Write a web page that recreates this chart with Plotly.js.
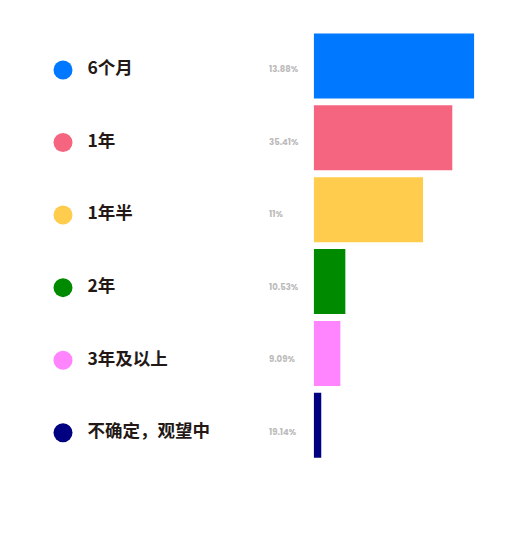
<!DOCTYPE html>
<html>
<head>
<meta charset="utf-8">
<script src="https://cdn.plot.ly/plotly-3.0.1.min.js"></script>
<style>html,body{margin:0;padding:0;background:#fff;}#chart{width:525px;height:540px;}</style>
</head>
<body>
<div id="chart"></div>
<script>
// Data
const categories = ['6个月', '1年', '1年半', '2年', '3年及以上', '不确定，观望中'];
const percentLabels = ['13.88%', '35.41%', '11%', '10.53%', '9.09%', '19.14%'];
// Bar lengths as drawn (relative units, longest = 100)
const barLengths = [100, 86.3, 68.1, 19.7, 16.6, 4.7];
const colors = ['#0078FF', '#F6657F', '#FFCC4D', '#008A00', '#FF85FF', '#000080'];

// Layout constants (pixel columns on the legend axis, 0..525)
const DOT_X = 63;
const LABEL_X = 87.5;
const PCT_X = 269;

const traces = [
  {
    type: 'bar',
    orientation: 'h',
    y: categories,
    x: barLengths,
    marker: {color: colors},
    hoverinfo: 'skip',
    xaxis: 'x', yaxis: 'y',
    showlegend: false
  },
  {
    type: 'scatter',
    mode: 'markers',
    y: categories,
    x: categories.map(() => DOT_X),
    marker: {color: colors, size: 19, line: {width: 0}},
    xaxis: 'x2', yaxis: 'y2',
    hoverinfo: 'skip',
    showlegend: false
  },
  {
    type: 'scatter',
    mode: 'text',
    y: categories,
    x: categories.map(() => LABEL_X),
    text: categories.map(c => '<b>' + c + '</b>'),
    textposition: 'middle right',
    textfont: {family: 'Noto Sans CJK SC, Noto Sans, sans-serif', size: 17.5, color: '#231815'},
    xaxis: 'x2', yaxis: 'y2',
    hoverinfo: 'skip',
    showlegend: false
  },
  {
    type: 'scatter',
    mode: 'text',
    y: categories,
    x: categories.map(() => PCT_X),
    text: percentLabels.map(p => '<b>' + p + '</b>'),
    textposition: 'middle right',
    textfont: {family: 'Poppins, Noto Sans, sans-serif', size: 8.5, color: '#BBBBBB'},
    xaxis: 'x2', yaxis: 'y2',
    hoverinfo: 'skip',
    showlegend: false
  }
];

const layout = {
  width: 525, height: 540,
  margin: {l: 0, r: 0, t: 30, b: 70},
  paper_bgcolor: '#fff', plot_bgcolor: 'rgba(0,0,0,0)',
  bargap: 0.096,
  xaxis: {domain: [313.7/525, 474.3/525], range: [0, 100], visible: false, fixedrange: true, anchor: 'y'},
  yaxis: {domain: [(470-461.2)/440, 1], range: [5.5, -0.5], type: 'category', visible: false, fixedrange: true, anchor: 'x'},
  xaxis2: {domain: [0, 1], range: [0, 525], visible: false, anchor: 'y2', fixedrange: true},
  yaxis2: {domain: [(470-469)/440, (470-33.7)/440], range: [5.5, -0.5], type: 'category', visible: false, anchor: 'x2', fixedrange: true}
};

Plotly.newPlot('chart', traces, layout, {displayModeBar: false, staticPlot: true});
</script>
</body>
</html>
